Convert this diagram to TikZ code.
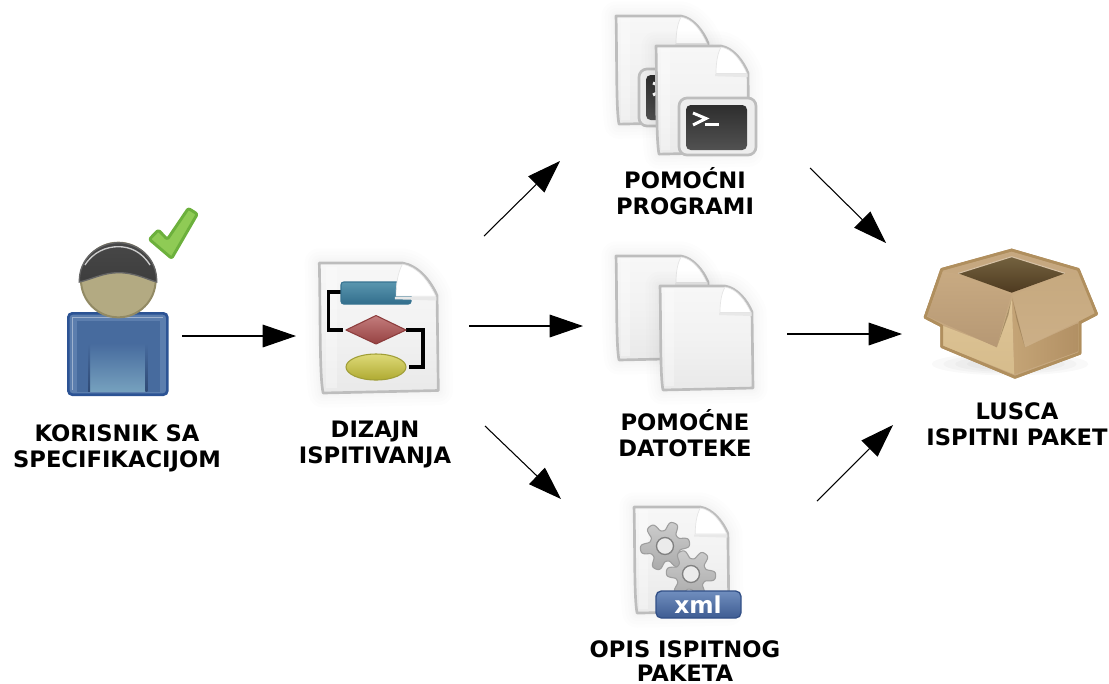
\documentclass[tikz,border=0pt]{standalone}
\usepackage{fontspec}
\setmainfont{DejaVu Sans}
\usetikzlibrary{arrows.meta}
\definecolor{pageedge}{HTML}{BDBDBD}
\definecolor{pagetop}{HTML}{F7F7F7}
\definecolor{pagemid}{HTML}{F2F2F2}
\definecolor{pagelow}{HTML}{E9E9E9}
\definecolor{tan1}{HTML}{C6A880}
\definecolor{tanedge}{HTML}{B08F5E}
\definecolor{bodyedge}{HTML}{2C5394}
\definecolor{bodyrim}{HTML}{5C7EAE}
\definecolor{bodyfill}{HTML}{476B9E}
\definecolor{bodylow}{HTML}{76A1BE}
\definecolor{bodydark}{HTML}{2F4A75}
\definecolor{face}{HTML}{B3AA82}
\definecolor{faceedge}{HTML}{928A64}
\definecolor{chk}{HTML}{8FCB55}
\definecolor{chkedge}{HTML}{6CB03C}
\definecolor{tealT}{HTML}{5A96AF}
\definecolor{tealB}{HTML}{326E8C}
\definecolor{tealE}{HTML}{377391}
\definecolor{redT}{HTML}{C37D7D}
\definecolor{redB}{HTML}{964141}
\definecolor{redE}{HTML}{8C3C3C}
\definecolor{olT}{HTML}{DEDA78}
\definecolor{olB}{HTML}{AFAA32}
\definecolor{olE}{HTML}{A09E37}
\definecolor{xmlT}{HTML}{708EBE}
\definecolor{xmlB}{HTML}{3E5C92}
\definecolor{xmlE}{HTML}{325087}
\definecolor{boxinT}{HTML}{74623F}
\definecolor{boxinB}{HTML}{4E3A20}
\definecolor{fl1}{HTML}{DEC496}
\definecolor{fl2}{HTML}{D6BC8C}
\definecolor{fr1}{HTML}{C4A476}
\definecolor{fr2}{HTML}{B29064}
\definecolor{lf1}{HTML}{C8AA82}
\definecolor{lf2}{HTML}{B69874}
\definecolor{rf1}{HTML}{C6A97F}
\definecolor{rf2}{HTML}{CCAF87}
\definecolor{crease}{HTML}{78603E}
\tikzset{
  x=0.75pt,y=-0.75pt,
  lbl/.style={font=\bfseries\fontsize{17}{19.5}\selectfont,align=center,inner sep=0pt,text=black},
  flow/.style={draw=black,line width=0.8pt,-{Triangle[length=25pt,width=17pt]}},
  pageface/.style={draw=pageedge,line width=2pt,line join=round,top color=pagetop,bottom color=pagelow,middle color=pagemid},
  termo/.style={draw=pageedge,line width=2pt,fill=white!93!black,rounded corners=6pt},
  termi/.style={rounded corners=3.5pt,top color=black!82,bottom color=black!68},
  glyph/.style={draw=white,line width=2.2pt,line join=miter},
  gearface/.style={draw=black!38,line width=0.8pt,top color=black!20,bottom color=black!33},
}
\def\pagepath{(1,0) -- (66,0) .. controls (78,2) and (88,14) .. (93,26) -- (94,102) -- (4,104) .. controls (1,90) and (2,40) .. cycle}
\newcommand\docpage[4]{%
  \begin{scope}[shift={(#1,#2)},xscale=#3,yscale=#4]
    \foreach \w in {22,17,12,8,5}{\path[draw=black,opacity=0.006,line width=\w pt,line join=round] \pagepath;}
    \path[pageface] \pagepath;
    \path[fill=white,opacity=0.3] (6,3) rectangle (15,100);
  \end{scope}}
\newcommand\docfold[4]{%
  \begin{scope}[shift={(#1,#2)},xscale=#3,yscale=#4]
    \path[fill=black!9] (60,27) -- (92.5,27) -- (92.5,30) -- (60,29) -- cycle;
    \path[fill=white,draw=black!10,line width=0.5pt] (66,1) .. controls (62,8) and (61,18) .. (61,26.5) -- (92,26.5) .. controls (86,14) and (78,3) .. (66,1) -- cycle;
  \end{scope}}
\newcommand\gearshape[3]{%
  \begin{scope}[shift={(#1,#2)}]
    \path[gearface] plot[domain=0:360,samples=145] ({(20+5*tanh(1.8*cos(6*(\x+#3))))*cos(\x)},{(20+5*tanh(1.8*cos(6*(\x+#3))))*sin(\x)}) -- cycle;
    \path[fill=white!92!black,draw=black!50,line width=1pt] (0,0) circle[radius=8.5];
  \end{scope}}
\begin{document}
\begin{tikzpicture}
\useasboundingbox (0,0) rectangle (1109,683);

% ---- user ----
\begin{scope}[shift={(50,190)},scale=1/3]
  \path[fill=bodyrim,rounded corners=3pt] (55,370) rectangle (352,614);
  \path[fill=bodyfill] (80,392) rectangle (330,606);
  \path[top color=bodyfill,bottom color=bodylow] (118,460) rectangle (288,605);
  \path[top color=bodyfill,bottom color=bodydark] (114,460) rectangle (120,605);
  \path[top color=bodyfill,bottom color=bodydark] (286,460) rectangle (292,605);
  \draw[white!40!bodyrim,line width=0.7pt] (68,600) -- (68,383) -- (340,383);
  \draw[bodyedge,line width=2pt,rounded corners=3pt] (55,370) rectangle (352,614);
  \path[fill=face,draw=faceedge,line width=1.5pt] (205,270) circle[radius=112];
  \path[top color=black!72,bottom color=black!76,draw=black!60,line width=1pt] (88,276) .. controls (86,205) and (145,158) .. (205,158) .. controls (265,158) and (322,205) .. (320,276) .. controls (290,268) and (255,248) .. (205,248) .. controls (160,248) and (125,268) .. (88,276) -- cycle;
  \draw[white!80!black,line width=1pt] (105,225) .. controls (130,185) and (170,170) .. (205,170) .. controls (240,170) and (275,185) .. (300,225);
  % check mark
  \path[fill=chk,draw=chkedge,line width=2.2pt,line join=round,rounded corners=1.5pt] (298,148) -- (325,120) -- (352,148) -- (415,55) -- (442,72) -- (365,205) -- cycle;
\end{scope}

% ---- design ----
\docpage{318}{263}{1.28}{1.25}
\draw[black,line width=2.4pt] (341,292) -- (328.5,292) -- (328.5,330) -- (343,330);
\draw[black,line width=2.4pt] (406,330) -- (423,330) -- (423,367) -- (409,367);
\path[top color=tealT,bottom color=tealB,draw=tealE,line width=0.8pt,rounded corners=2pt] (341,282) rectangle (411,304);
\path[top color=redT,bottom color=redB,draw=redE,line width=0.8pt,line join=round] (346,330) -- (376,315.5) -- (406,330) -- (376,344) -- cycle;
\path[top color=olT,bottom color=olB,draw=olE,line width=0.8pt] (376,367) ellipse[x radius=30,y radius=13];
\docfold{318}{263}{1.28}{1.25}

% ---- helper programs ----
\docpage{615}{16}{1}{1.04}
\docfold{615}{16}{1}{1.04}
\path[termo] (639,69) rectangle (716,126);
\path[termi] (646,75) rectangle (707,120);
\draw[glyph] (653,83) -- (666,88.5) -- (653,95);
\docpage{655}{46}{1}{1.04}
\docfold{655}{46}{1}{1.04}
\path[termo] (679,98) rectangle (756,155);
\path[termi] (686,105) rectangle (747,150);
\draw[glyph] (693,113) -- (706,118.5) -- (693,125);
\draw[glyph] (705,124.5) -- (719,124.5);

% ---- helper files ----
\docpage{615}{256}{1}{1}
\docfold{615}{256}{1}{1}
\docpage{659}{286}{1}{1}
\docfold{659}{286}{1}{1}

% ---- xml ----
\docpage{633}{507}{1.02}{1.02}
\docfold{633}{507}{1.02}{1.02}
\gearshape{665}{546}{8}
\gearshape{691}{574}{-5}
\path[top color=xmlT,bottom color=xmlB,draw=xmlE,line width=1pt,rounded corners=4pt] (656,591) rectangle (741,618);
\node[inner sep=0pt,text=white,font=\bfseries\fontsize{17.5}{20}\selectfont] (xmltag) at (698,605) {xml};

% ---- box ----
\begin{scope}[shift={(915,240)},scale=1/3]
  \foreach \w in {1,0.85,0.7,0.55}{
    \path[fill=black,opacity=0.025] (285,372) ellipse[x radius=235*\w,y radius=34*\w];}
  \path[fill=tan1,draw=tanedge,line width=2pt,line join=round] (290,30) -- (490,88) -- (545,222) -- (495,248) -- (495,340) -- (300,412) -- (80,320) -- (80,258) -- (30,232) -- (80,88) -- cycle;
  \path[top color=boxinT,bottom color=boxinB] (130,100) -- (290,50) -- (450,100) -- (290,158) -- cycle;
  \draw[tan1!70!white,line width=0.8pt] (130,100) -- (290,50) -- (450,100);
  \path[top color=fl1,bottom color=fl2] (85,258) -- (245,320) -- (290,175) -- (298,403) -- (85,318) -- cycle;
  \path[left color=fr1,right color=fr2] (298,403) -- (488,335) -- (488,250) -- (330,322) -- (292,175) -- cycle;
  \path[top color=lf1,bottom color=lf2] (85,95) -- (130,102) -- (288,165) -- (245,322) -- (36,228) -- cycle;
  \path[top color=rf1,bottom color=rf2] (292,165) -- (450,102) -- (496,95) -- (538,220) -- (330,322) -- cycle;
  \path[fill=crease,opacity=0.5] (290,176) -- (280,225) -- (246,320) -- cycle;
  \path[fill=crease,opacity=0.4] (292,176) -- (305,240) -- (330,322) -- cycle;
  \path[draw=tanedge,line width=2pt,line join=round] (290,30) -- (490,88) -- (545,222) -- (495,248) -- (495,340) -- (300,412) -- (80,320) -- (80,258) -- (30,232) -- (80,88) -- cycle;
\end{scope}

% ---- labels ----
\node[lbl] (user) at (117,448) {KORISNIK SA\\SPECIFIKACIJOM};
\node[lbl] (design) at (375,444) {DIZAJN\\ISPITIVANJA};
\node[lbl] (progs) at (685,191) {POMOĆNI\\PROGRAMI};
\node[lbl] (files) at (685,433) {POMOĆNE\\DATOTEKE};
\node[lbl,anchor=north] (desc) at (685,640) {OPIS ISPITNOG\\[-1.5pt]PAKETA};
\node[lbl] (pack) at (1017,424) {LUSCA\\ISPITNI PAKET};

% ---- connectors ----
\coordinate (a1) at (182,336); \coordinate (a2) at (296,336);
\coordinate (b1) at (469,326); \coordinate (b2) at (583,326);
\coordinate (c1) at (484,236); \coordinate (c2) at (560,161);
\coordinate (d1) at (485,426); \coordinate (d2) at (561,499);
\coordinate (e1) at (810,168); \coordinate (e2) at (886,243);
\coordinate (f1) at (787,334); \coordinate (f2) at (902,334);
\coordinate (g1) at (817,501); \coordinate (g2) at (893,425);
\foreach \s/\t in {a1/a2,b1/b2,c1/c2,d1/d2,e1/e2,f1/f2,g1/g2}{\draw[flow] (\s) -- (\t);}
\end{tikzpicture}
\end{document}
